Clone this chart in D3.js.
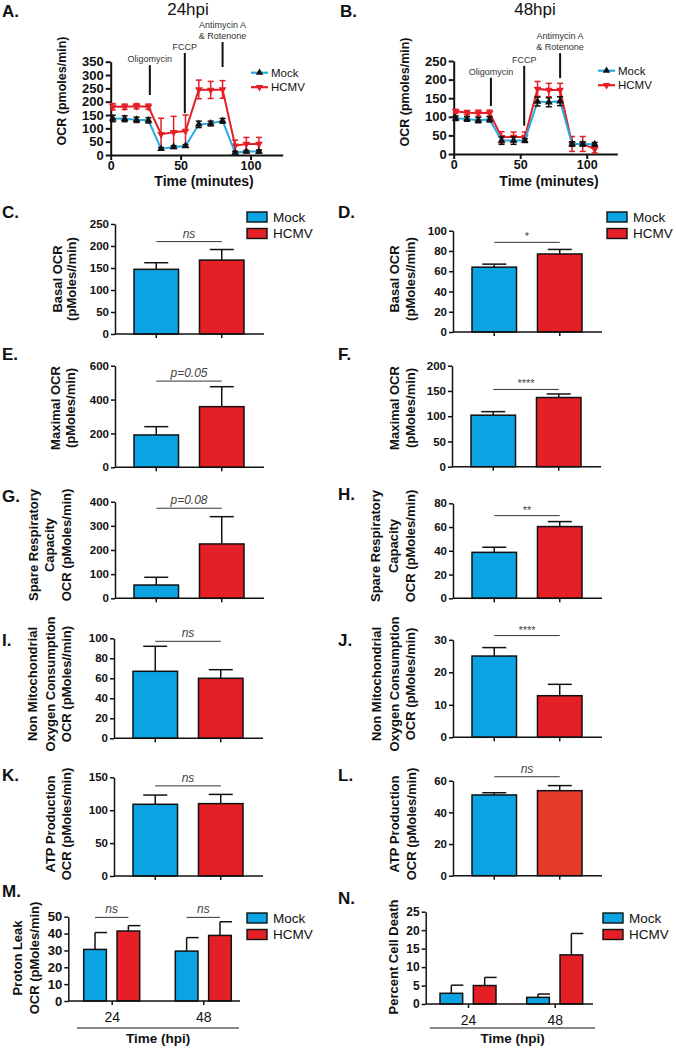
<!DOCTYPE html>
<html><head><meta charset="utf-8">
<script src="https://cdn.jsdelivr.net/npm/d3@7"></script>
<style>
body{margin:0;background:#fff}
svg{display:block}
text{font-family:"Liberation Sans",Arial,Helvetica,sans-serif}
</style>
</head><body>
<svg id="c" width="676" height="1049"></svg>
<script>
// ---------------- DATA ----------------
const seriesNames = ["Mock", "HCMV"];
const timeGroups = ["24", "48"];
const lineTicksX = [0, 50, 100];
const timePoints = [1.5, 10, 18.5, 27, 36, 45, 53.5, 63, 71.5, 80, 89, 97, 106];
const injectionNames = [["Oligomycin"], ["FCCP"], ["Antimycin A", "& Rotenone"]];
const injectionTimes = [28, 53, 80];

// A. 24hpi OCR trace
const ocr24Mock    = [137, 136, 132, 130, 23, 30, 34, 115, 118, 128, 9, 13, 13];
const ocr24MockErr = [12, 11, 10, 10, 5, 5, 5, 12, 9, 9, 4, 4, 6];
const ocr24HCMV    = [181, 181, 183, 181, 78, 85, 90, 246, 244, 246, 35, 41, 41];
const ocr24HCMVErr = [12, 10, 10, 10, 60, 60, 60, 35, 32, 33, 21, 25, 25];
// B. 48hpi OCR trace
const ocr48Mock    = [96, 94, 91, 93, 36, 36, 36, 141, 139, 142, 27, 27, 26];
const ocr48MockErr = [6, 6, 7, 7, 10, 10, 5, 12, 12, 12, 6, 6, 5];
const ocr48HCMV    = [115, 111, 110, 110, 45, 46, 46, 175, 172, 172, 27, 27, 13];
const ocr48HCMVErr = [5, 6, 8, 8, 15, 13, 13, 20, 18, 18, 20, 20, 10];

// C-L: [Mock, HCMV]
const basal24 = [147, 168],   basal24Err = [15, 24];
const basal48 = [64, 77],     basal48Err = [3, 4.5];
const maximal24 = [191, 358], maximal24Err = [49, 118];
const maximal48 = [102, 137], maximal48Err = [7, 7];
const spare24 = [55, 225],    spare24Err = [32, 113];
const spare48 = [38.7, 60.4], spare48Err = [4.3, 4.2];
const nonMito24 = [67, 60],   nonMito24Err = [25, 8.6];
const nonMito48 = [25, 12.8], nonMito48Err = [2.6, 3.5];
const atp24 = [109, 110],     atp24Err = [14, 14];
const atp48 = [51, 53.7],     atp48Err = [1.4, 3.2];
const sigLabels = {C: "ns", D: "*", E: "p=0.05", F: "****", G: "p=0.08", H: "**", I: "ns", J: "****", K: "ns", L: "ns"};

// M. Proton leak, N. Percent cell death  (per time group 24, 48)
const protonMock = [30.6, 29.6], protonMockErr = [10, 8];
const protonHCMV = [41.5, 38.9], protonHCMVErr = [3.2, 8.1];
const protonSig = ["ns", "ns"];
const deathMock = [2.9, 1.8],   deathMockErr = [2.2, 0.9];
const deathHCMV = [5.0, 13.3],  deathHCMVErr = [2.2, 5.8];

// ---------------- STYLE ----------------
const BLUE = "#0ca3e3", RED = "#e41f26", CYAN = "#27aae1";
const svg = d3.select("#c");

function text(x, y, s, o = {}) {
  const t = svg.append("text")
    .attr("transform", `translate(${x},${y})` + (o.rot ? ` rotate(${o.rot})` : ""))
    .attr("font-size", o.size || 12)
    .attr("font-weight", o.bold ? "bold" : "normal")
    .attr("font-style", o.italic ? "italic" : "normal")
    .attr("fill", o.fill || "#111")
    .attr("text-anchor", o.anchor || "start")
    .text(s);
  if (o.dominant) t.attr("dominant-baseline", o.dominant);
  return t;
}
function styleAxis(g, size, sw) {
  g.selectAll("path.domain").attr("stroke", "#111").attr("stroke-width", sw);
  g.selectAll(".tick line").attr("stroke", "#111").attr("stroke-width", sw);
  g.selectAll(".tick text").attr("font-size", size).attr("font-weight", "bold")
    .attr("fill", "#111").attr("font-family", '"Liberation Sans",Arial,sans-serif');
}
function yTitle(lines, xs, cy, size) {
  lines.forEach((l, i) => text(xs[i], cy, l, {rot: -90, anchor: "middle", bold: true, size: size || 13, dominant: "central"}));
}

// ---------------- LINE CHARTS ----------------
function linePanel(o, mock, mockErr, hcmv, hcmvErr) {
  const x = d3.scaleLinear().domain([0, 123]).range([o.x0, o.x1]);
  const y = d3.scaleLinear().domain([0, o.max]).range([o.y0, o.y1]);
  const g = svg.append("g");
  const ya = g.append("g").attr("transform", `translate(${o.x0},0)`)
    .call(d3.axisLeft(y).tickValues(d3.range(0, o.max + 1, 50)).tickSize(5).tickSizeOuter(0).tickPadding(2));
  styleAxis(ya, 13, 2);
  const xa = g.append("g").attr("transform", `translate(0,${o.y0})`)
    .call(d3.axisBottom(x).tickValues(lineTicksX).tickSize(5).tickSizeOuter(0).tickPadding(1));
  styleAxis(xa, 12.5, 2);

  // injection markers
  injectionTimes.forEach((t, i) => {
    const [lo, hi] = o.inj[i];
    g.append("line").attr("x1", x(t)).attr("x2", x(t)).attr("y1", y(lo)).attr("y2", y(hi))
      .attr("stroke", "#111").attr("stroke-width", 2);
    const names = injectionNames[i];
    names.forEach((n, k) => {
      text(x(t), y(hi) - 3 - (names.length - 1 - k) * 11, n, {size: 9, anchor: "middle", fill: "#333"});
    });
  });

  const ser = [
    {v: hcmv, e: hcmvErr, line: RED, err: RED, mk: RED, rot: 180},
    {v: mock, e: mockErr, line: CYAN, err: "#111", mk: "#111", rot: 0}
  ];
  ser.forEach(s => {
    const pts = timePoints.map((t, i) => ({t, v: s.v[i], e: s.e[i]}));
    g.append("path").datum(pts)
      .attr("d", d3.line().x(d => x(d.t)).y(d => y(d.v)))
      .attr("fill", "none").attr("stroke", s.line).attr("stroke-width", 2);
    const eb = g.append("g").attr("stroke", s.err).attr("stroke-width", 1.5);
    pts.forEach(d => {
      const top = y(d.v + d.e), bot = y(Math.max(0, d.v - d.e));
      eb.append("line").attr("x1", x(d.t)).attr("x2", x(d.t)).attr("y1", top).attr("y2", bot);
      eb.append("line").attr("x1", x(d.t) - 3).attr("x2", x(d.t) + 3).attr("y1", top).attr("y2", top);
      eb.append("line").attr("x1", x(d.t) - 3).attr("x2", x(d.t) + 3).attr("y1", bot).attr("y2", bot);
    });
    g.selectAll(null).data(pts).join("path")
      .attr("d", d3.symbol().type(d3.symbolTriangle).size(26))
      .attr("transform", d => `translate(${x(d.t)},${y(d.v)}) rotate(${s.rot})`)
      .attr("fill", s.mk);
  });

  // legend
  [{n: "Mock", line: CYAN, mk: "#111", rot: 0}, {n: "HCMV", line: RED, mk: RED, rot: 180}].forEach((L, i) => {
    const ly = o.legY + i * 14.5;
    svg.append("line").attr("x1", o.legX).attr("x2", o.legX + 17).attr("y1", ly).attr("y2", ly)
      .attr("stroke", L.line).attr("stroke-width", 2.2);
    svg.append("path").attr("d", d3.symbol().type(d3.symbolTriangle).size(24)())
      .attr("transform", `translate(${o.legX + 8.5},${ly}) rotate(${L.rot})`).attr("fill", L.mk);
    text(o.legX + 20, ly, L.n, {size: 11.5, dominant: "central"});
  });

  yTitle(["OCR (pmoles/min)"], [o.titleX], o.titleY, 12.5);
  text(o.xTitleX, o.xTitleY, "Time (minutes)", {size: 14, bold: true, anchor: "middle"});
  text(o.headX, 15, o.head, {size: 17, anchor: "middle"});
  text(o.letterX, 17, o.letter, {size: 17, bold: true});
}

linePanel({x0: 110.7, x1: 282.7, y0: 155, y1: 61.7, max: 350,
  inj: [[225, 337], [157, 383], [330, 424]], legX: 251, legY: 72.7,
  titleX: 62, titleY: 91, xTitleX: 204, xTitleY: 186, headX: 188, head: "24hpi", letterX: 2, letter: "A."},
  ocr24Mock, ocr24MockErr, ocr24HCMV, ocr24HCMVErr);
linePanel({x0: 453.7, x1: 617.3, y0: 154, y1: 61, max: 250,
  inj: [[129, 205], [76, 237], [204, 271]], legX: 598, legY: 70.7,
  titleX: 405, titleY: 92, xTitleX: 549, xTitleY: 186, headX: 535, head: "48hpi", letterX: 340, letter: "B."},
  ocr48Mock, ocr48MockErr, ocr48HCMV, ocr48HCMVErr);

// ---------------- BAR PANELS ----------------
function barLegend(x, y) {
  seriesNames.forEach((n, i) => {
    svg.append("rect").attr("x", x).attr("y", y + i * 16.5).attr("width", 20).attr("height", 10)
      .attr("fill", i ? RED : BLUE).attr("stroke", "#111").attr("stroke-width", 1.4);
    text(x + 26, y + 5 + i * 16.5, n, {size: 13.5, dominant: "central"});
  });
}

function barPanel(o, vals, errs, sig) {
  const x = d3.scaleBand().domain(seriesNames).range([o.ax + 19, o.ax + 129]).paddingInner(0.32);
  const y = d3.scaleLinear().domain([0, o.max]).range([o.y0, o.y1]);
  const colors = o.colors || [BLUE, RED];
  const g = svg.append("g");
  const bw = x.bandwidth();
  // error bars (upper only)
  seriesNames.forEach((n, i) => {
    const cx = x(n) + bw / 2, top = y(vals[i] + errs[i]);
    g.append("line").attr("x1", cx).attr("x2", cx).attr("y1", y(vals[i])).attr("y2", top).attr("stroke", "#111").attr("stroke-width", 1.5);
    g.append("line").attr("x1", cx - 12).attr("x2", cx + 12).attr("y1", top).attr("y2", top).attr("stroke", "#111").attr("stroke-width", 1.5);
  });
  g.selectAll(null).data(seriesNames).join("rect")
    .attr("x", d => x(d)).attr("y", (d, i) => y(vals[i]))
    .attr("width", bw).attr("height", (d, i) => y(0) - y(vals[i]))
    .attr("fill", (d, i) => colors[i]).attr("stroke", "#111").attr("stroke-width", 1.5);
  const ya = g.append("g").attr("transform", `translate(${o.ax},0)`)
    .call(d3.axisLeft(y).tickValues(d3.range(0, o.max + 1e-9, o.step)).tickSize(4).tickSizeOuter(0).tickPadding(2));
  styleAxis(ya, 11.5, 1.5);
  const xa = g.append("g").attr("transform", `translate(0,${o.y0})`)
    .call(d3.axisBottom(x).tickSize(4).tickFormat(""));
  styleAxis(xa, 11, 1.5);
  xa.select("path.domain").remove();
  g.append("line").attr("x1", o.ax).attr("x2", o.ax + 149).attr("y1", o.y0).attr("y2", o.y0)
    .attr("stroke", "#111").attr("stroke-width", 1.5);
  // significance
  const sy = y(o.sig);
  const c0 = x(seriesNames[0]) + bw / 2, c1 = x(seriesNames[1]) + bw / 2;
  g.append("line").attr("x1", c0).attr("x2", c1).attr("y1", sy).attr("y2", sy).attr("stroke", "#333").attr("stroke-width", 1);
  const star = /^\*+$/.test(sig);
  text((c0 + c1) / 2, sy - (star ? 2 : 4), sig, {size: star ? 11 : 12, italic: !star, anchor: "middle", fill: "#444"});
  yTitle(o.title, o.tx, o.ty, 13);
  text(o.lx, o.ly, o.letter, {size: 17, bold: true});
  if (o.legend) barLegend(o.legend[0], o.legend[1]);
}

barPanel({ax: 115, y0: 334, y1: 224, max: 250, step: 50, sig: 210, letter: "C.", lx: 2, ly: 218,
  title: ["Basal OCR", "(pMoles//min)"], tx: [57, 71], ty: 279, legend: [247, 212]}, basal24, basal24Err, sigLabels.C);
barPanel({ax: 453, y0: 332, y1: 230.7, max: 100, step: 20, sig: 88.5, letter: "D.", lx: 338, ly: 218,
  title: ["Basal OCR", "(pMoles//min)"], tx: [394, 410], ty: 279, legend: [607, 212]}, basal48, basal48Err, sigLabels.D);
barPanel({ax: 115, y0: 467.3, y1: 365.7, max: 600, step: 200, sig: 509, letter: "E.", lx: 2, ly: 360,
  title: ["Maximal OCR", "(pMoles/min)"], tx: [55, 70], ty: 408}, maximal24, maximal24Err, sigLabels.E);
barPanel({ax: 452, y0: 466.7, y1: 365.7, max: 200, step: 50, sig: 153, letter: "F.", lx: 338, ly: 360,
  title: ["Maximal OCR", "(pMoles/min)"], tx: [394, 410], ty: 408}, maximal48, maximal48Err, sigLabels.F);
barPanel({ax: 115, y0: 598.3, y1: 501.7, max: 400, step: 100, sig: 373, letter: "G.", lx: 2, ly: 502,
  title: ["Spare Respiratory", "Capacity", "OCR (pMoles/min)"], tx: [33, 49, 66], ty: 545}, spare24, spare24Err, sigLabels.G);
barPanel({ax: 453, y0: 598.3, y1: 503.3, max: 80, step: 20, sig: 69.6, letter: "H.", lx: 338, ly: 500,
  title: ["Spare Respiratory", "Capacity", "OCR (pMoles/min)"], tx: [375, 393, 410], ty: 546}, spare48, spare48Err, sigLabels.H);
barPanel({ax: 114, y0: 738.3, y1: 638.3, max: 100, step: 20, sig: 97, letter: "I.", lx: 2, ly: 646,
  title: ["Non Mitochondrial", "Oxygen Consumption", "OCR (pMoles//min)"], tx: [32, 50, 66], ty: 684}, nonMito24, nonMito24Err, sigLabels.I);
barPanel({ax: 453, y0: 737.3, y1: 639.8, max: 30, step: 10, sig: 31.3, letter: "J.", lx: 338, ly: 646,
  title: ["Non Mitochondrial", "Oxygen Consumption", "OCR (pMoles/min)"], tx: [376, 394, 410], ty: 684}, nonMito48, nonMito48Err, sigLabels.J);
barPanel({ax: 114, y0: 876, y1: 777.3, max: 150, step: 50, sig: 137, letter: "K.", lx: 2, ly: 781,
  title: ["ATP Production", "OCR (pMoles/min)"], tx: [50, 66], ty: 824}, atp24, atp24Err, sigLabels.K);
barPanel({ax: 453, y0: 875.7, y1: 780.7, max: 60, step: 20, sig: 62.5, letter: "L.", lx: 338, ly: 781,
  title: ["ATP Production", "OCR (pMoles/min)"], tx: [394, 411], ty: 824, colors: [BLUE, "#e63a28"]}, atp48, atp48Err, sigLabels.L);

// ---------------- GROUPED PANELS ----------------
function groupedPanel(o, mv, me, hv, he, sig) {
  const x0 = d3.scalePoint().domain(timeGroups).range([o.ax + o.c[0], o.ax + o.c[1]]);
  const x1 = d3.scaleBand().domain(seriesNames).range([-28, 28]).paddingInner(0.32);
  const y = d3.scaleLinear().domain([0, o.max]).range([o.y0, o.y1]);
  const bw = x1.bandwidth();
  const g = svg.append("g");
  const sets = [[mv, me], [hv, he]];
  timeGroups.forEach((tg, gi) => {
    seriesNames.forEach((n, si) => {
      const v = sets[si][0][gi], e = sets[si][1][gi];
      const bx = x0(tg) + x1(n), cx = bx + bw / 2;
      g.append("line").attr("x1", cx).attr("x2", cx).attr("y1", y(v)).attr("y2", y(v + e)).attr("stroke", "#111").attr("stroke-width", 1.5);
      g.append("line").attr("x1", cx).attr("x2", cx + 12).attr("y1", y(v + e)).attr("y2", y(v + e)).attr("stroke", "#111").attr("stroke-width", 1.5);
      g.append("rect").attr("x", bx).attr("y", y(v)).attr("width", bw).attr("height", y(0) - y(v))
        .attr("fill", si ? RED : BLUE).attr("stroke", "#111").attr("stroke-width", 1.5);
    });
    if (sig) {
      const a = x0(tg) + x1(seriesNames[0]) + bw / 2, b = x0(tg) + x1(seriesNames[1]) + bw / 2, sy = y(o.sig);
      g.append("line").attr("x1", a).attr("x2", b).attr("y1", sy).attr("y2", sy).attr("stroke", "#333").attr("stroke-width", 1);
      text((a + b) / 2, sy - 4, sig[gi], {size: 12, italic: true, anchor: "middle", fill: "#444"});
    }
  });
  const ya = g.append("g").attr("transform", `translate(${o.ax},0)`)
    .call(d3.axisLeft(y).tickValues(d3.range(0, o.max + 1e-9, o.step)).tickSize(4).tickSizeOuter(0).tickPadding(2));
  styleAxis(ya, o.tickSize, 1.5);
  const xa = g.append("g").attr("transform", `translate(0,${o.y0})`)
    .call(d3.axisBottom(x0).tickSize(4).tickPadding(7));
  styleAxis(xa, 14, 1.5);
  xa.selectAll(".tick text").attr("font-weight", "normal");
  xa.select("path.domain").remove();
  g.append("line").attr("x1", o.ax).attr("x2", o.axEnd).attr("y1", o.y0).attr("y2", o.y0).attr("stroke", "#111").attr("stroke-width", 1.5);
  g.append("line").attr("x1", o.ul[0]).attr("x2", o.ul[1]).attr("y1", 1028).attr("y2", 1028).attr("stroke", "#111").attr("stroke-width", 1);
  text((o.ul[0] + o.ul[1]) / 2, 1043, "Time (hpi)", {size: 13.5, bold: true, anchor: "middle"});
  yTitle(o.title, o.tx, o.ty, 13);
  text(o.lx, o.ly, o.letter, {size: 17, bold: true});
  barLegend(o.legend[0], o.legend[1]);
}

groupedPanel({ax: 68.3, axEnd: 240, c: [43.4, 135], y0: 1001, y1: 916.7, max: 50, step: 10, sig: 49.6, tickSize: 13,
  ul: [77, 239], title: ["Proton Leak", "OCR (pMoles/min)"], tx: [17, 34], ty: 958, letter: "M.", lx: 2, ly: 897, legend: [247, 913]},
  protonMock, protonMockErr, protonHCMV, protonHCMVErr, protonSig);
groupedPanel({ax: 425.7, axEnd: 593, c: [42.3, 129], y0: 1004, y1: 911.7, max: 25, step: 5, tickSize: 12,
  ul: [430, 595], title: ["Percent Cell Death"], tx: [393], ty: 957, letter: "N.", lx: 338, ly: 904, legend: [603, 913]},
  deathMock, deathMockErr, deathHCMV, deathHCMVErr, null);
</script>
</body></html>
